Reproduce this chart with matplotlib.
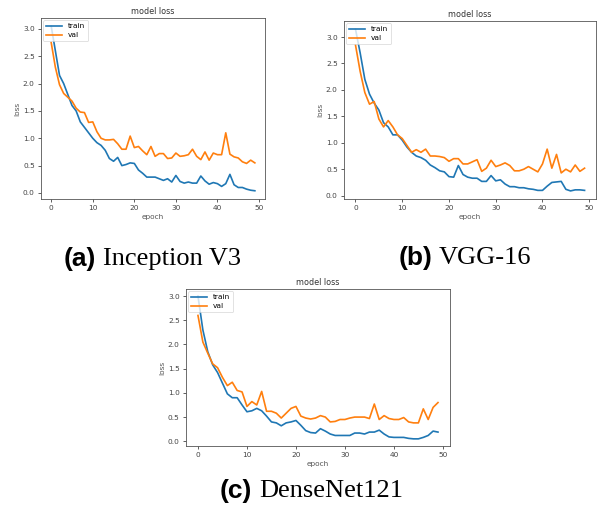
import numpy as np
import matplotlib
matplotlib.use('Agg')
import matplotlib.pyplot as plt

# epochs 0..49
epochs = np.arange(50)

# (a) Inception V3
inc_train = [3.05, 2.6, 2.15, 2.0, 1.8, 1.6, 1.5, 1.3, 1.2, 1.1,
             1.0, 0.92, 0.87, 0.78, 0.63, 0.58, 0.65, 0.5, 0.52, 0.55,
             0.54, 0.42, 0.36, 0.29, 0.29, 0.29, 0.26, 0.23, 0.26, 0.2,
             0.32, 0.21, 0.18, 0.2, 0.18, 0.18, 0.31, 0.22, 0.16, 0.19,
             0.17, 0.12, 0.17, 0.34, 0.15, 0.1, 0.1, 0.07, 0.05, 0.04]
inc_val = [2.75, 2.3, 1.98, 1.82, 1.75, 1.68, 1.55, 1.48, 1.47, 1.29,
           1.3, 1.12, 1.0, 0.97, 0.97, 0.98, 0.9, 0.8, 0.8, 1.04,
           0.83, 0.85, 0.77, 0.7, 0.85, 0.67, 0.72, 0.72, 0.63, 0.64,
           0.73, 0.67, 0.68, 0.7, 0.8, 0.67, 0.61, 0.75, 0.6, 0.73,
           0.7, 0.7, 1.1, 0.71, 0.66, 0.64, 0.57, 0.54, 0.6, 0.55]

# (b) VGG-16
vgg_train = [3.15, 2.7, 2.2, 1.92, 1.75, 1.62, 1.38, 1.3, 1.15, 1.15,
             1.05, 0.92, 0.82, 0.75, 0.72, 0.67, 0.58, 0.53, 0.47, 0.45,
             0.36, 0.35, 0.57, 0.4, 0.35, 0.33, 0.33, 0.27, 0.27, 0.38,
             0.28, 0.3, 0.22, 0.17, 0.17, 0.15, 0.15, 0.13, 0.12, 0.1,
             0.1, 0.18, 0.25, 0.26, 0.27, 0.12, 0.09, 0.11, 0.11, 0.1]
vgg_val = [2.85, 2.35, 1.95, 1.73, 1.78, 1.45, 1.3, 1.42, 1.3, 1.15,
           1.08, 0.95, 0.82, 0.87, 0.82, 0.88, 0.75, 0.75, 0.74, 0.72,
           0.65, 0.7, 0.7, 0.6, 0.6, 0.64, 0.68, 0.46, 0.52, 0.67,
           0.55, 0.58, 0.62, 0.57, 0.47, 0.47, 0.5, 0.55, 0.5, 0.45,
           0.6, 0.88, 0.52, 0.78, 0.43, 0.5, 0.45, 0.58, 0.46, 0.52]

# (c) DenseNet121
dn_train = [3.0, 2.3, 1.85, 1.58, 1.42, 1.2, 0.98, 0.9, 0.9, 0.75,
            0.61, 0.63, 0.68, 0.63, 0.52, 0.4, 0.38, 0.32, 0.38, 0.4,
            0.43, 0.33, 0.22, 0.18, 0.17, 0.26, 0.21, 0.15, 0.12, 0.12,
            0.12, 0.12, 0.17, 0.17, 0.15, 0.19, 0.19, 0.23, 0.15, 0.09,
            0.08, 0.08, 0.08, 0.06, 0.05, 0.05, 0.08, 0.12, 0.21, 0.19]
dn_val = [2.6, 2.05, 1.82, 1.6, 1.52, 1.32, 1.15, 1.22, 1.05, 1.02,
          0.72, 0.82, 0.75, 1.03, 0.62, 0.62, 0.58, 0.48, 0.58, 0.68,
          0.72, 0.52, 0.48, 0.46, 0.48, 0.53, 0.5, 0.4, 0.41, 0.45,
          0.45, 0.48, 0.5, 0.5, 0.5, 0.47, 0.77, 0.45, 0.53, 0.47,
          0.45, 0.45, 0.49, 0.4, 0.38, 0.38, 0.67, 0.45, 0.7, 0.8]

fig = plt.figure(figsize=(5.98, 5.15), dpi=100)

# axes rectangles (fractions of figure)
ax_a = fig.add_axes([0.0686, 0.6136, 0.3746, 0.3515])
ax_b = fig.add_axes([0.5753, 0.6136, 0.4214, 0.3456])
ax_c = fig.add_axes([0.311, 0.134, 0.4415, 0.3049])

fs = 5.3
for ax, tr, va in [(ax_a, inc_train, inc_val), (ax_b, vgg_train, vgg_val), (ax_c, dn_train, dn_val)]:
    ax.plot(epochs, tr, color='#1f77b4', lw=1.2, label='train')
    ax.plot(epochs, va, color='#ff7f0e', lw=1.2, label='val')
    ax.set_title('model loss', fontsize=fs + 0.5, color='#333333', pad=3)
    ax.set_xlabel('epoch', fontsize=fs, color='#555555', labelpad=2)
    ax.set_ylabel('loss', fontsize=fs, color='#555555', labelpad=2)
    ax.set_xticks([0, 10, 20, 30, 40, 50])
    ax.set_yticks([0.0, 0.5, 1.0, 1.5, 2.0, 2.5, 3.0])
    ax.tick_params(labelsize=fs, length=2.5, width=0.6, pad=2, colors='#444444')
    for s in ax.spines.values():
        s.set_linewidth(0.6)
        s.set_color('#555555')
    leg = ax.legend(loc='upper left', fontsize=fs, handlelength=2.2,
                    borderpad=0.4, labelspacing=0.4, borderaxespad=0.3)
    leg.get_frame().set_linewidth(0.5)

# captions: bold sans letter + serif name
cap_fs = 19
def caption(x, y, letter, name):
    fig.text(x, y, letter, fontsize=cap_fs, fontweight='bold',
             family='Liberation Sans', ha='right', va='center')
    fig.text(x + 0.012, y, name, fontsize=cap_fs, family='Liberation Serif',
             ha='left', va='center')

caption(96 / 598, 1 - 259 / 515, '(a)', 'Inception V3')
caption(432 / 598, 1 - 258 / 515, '(b)', 'VGG-16')
caption(252 / 598, 1 - 491 / 515, '(c)', 'DenseNet121')

fig.savefig('out.png', dpi=100)
